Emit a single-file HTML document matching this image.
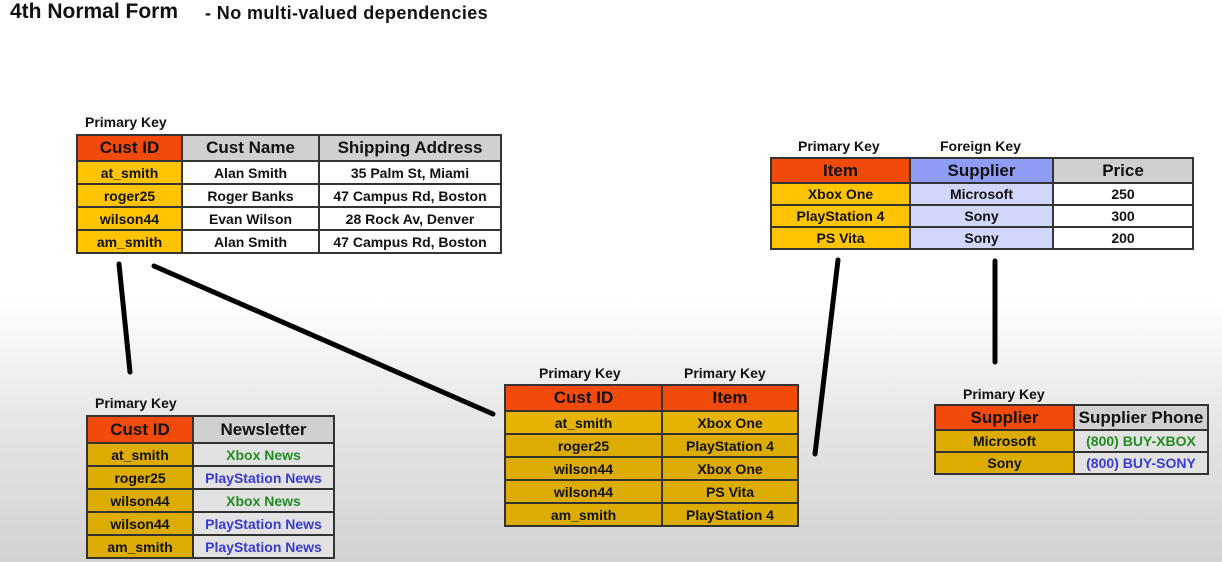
<!DOCTYPE html>
<html><head><meta charset="utf-8"><style>
html,body{margin:0;padding:0}
body{width:1222px;height:562px;position:relative;overflow:hidden;font-family:"Liberation Sans",sans-serif;background:linear-gradient(to bottom,#fff 0px,#fff 300px,#e6e6e6 420px,#d2d2d2 562px)}
.t{position:absolute;font-weight:bold;color:#111;white-space:nowrap}
table{position:absolute;border-collapse:collapse;table-layout:fixed;font-weight:bold;color:#111}
td{border:2px solid #333;text-align:center;padding:0;white-space:nowrap;overflow:hidden;font-size:14px}
tr.h td{font-size:17px}
.r{background:#f24a0a}.g{background:#d0d0d0}.y{background:#ffc400}.w{background:#fff}
.b{background:#8f9cf5}.lb{background:#d2d6fb}.dy{background:#dcac00}.lg{background:#e2e2e2}
.gr{color:#228b22}.bl{color:#3a3ad0}
</style></head><body>
<div class="t" style="left:10px;top:0px;font-size:21px">4th Normal Form</div>
<div class="t" style="left:205px;top:3px;font-size:18px;letter-spacing:0.4px">- No multi-valued dependencies</div>

<svg width="1222" height="562" style="position:absolute;left:0;top:0">
<g stroke="#000" stroke-width="5" stroke-linecap="round">
<line x1="119" y1="264" x2="130" y2="372"/>
<line x1="154" y1="266" x2="493" y2="414"/>
<line x1="838" y1="260" x2="815" y2="454"/>
<line x1="995" y1="261" x2="995" y2="362"/>
</g></svg>

<div class="t" style="left:85px;top:114px;font-size:14px">Primary Key</div>
<table style="left:76px;top:134px;width:424px">
<colgroup><col style="width:105px"><col style="width:137px"><col style="width:182px"></colgroup>
<tr class="h" style="height:26px"><td class="r">Cust ID</td><td class="g">Cust Name</td><td class="g">Shipping Address</td></tr>
<tr style="height:23px"><td class="y">at_smith</td><td class="w">Alan Smith</td><td class="w">35 Palm St, Miami</td></tr>
<tr style="height:23px"><td class="y">roger25</td><td class="w">Roger Banks</td><td class="w">47 Campus Rd, Boston</td></tr>
<tr style="height:23px"><td class="y">wilson44</td><td class="w">Evan Wilson</td><td class="w">28 Rock Av, Denver</td></tr>
<tr style="height:23px"><td class="y">am_smith</td><td class="w">Alan Smith</td><td class="w">47 Campus Rd, Boston</td></tr>
</table>

<div class="t" style="left:95px;top:395px;font-size:14px">Primary Key</div>
<table style="left:86px;top:415px;width:247px">
<colgroup><col style="width:106px"><col style="width:141px"></colgroup>
<tr class="h" style="height:27px"><td class="r">Cust ID</td><td class="g">Newsletter</td></tr>
<tr style="height:23px"><td class="dy">at_smith</td><td class="lg gr">Xbox News</td></tr>
<tr style="height:23px"><td class="dy">roger25</td><td class="lg bl">PlayStation News</td></tr>
<tr style="height:23px"><td class="dy">wilson44</td><td class="lg gr">Xbox News</td></tr>
<tr style="height:23px"><td class="dy">wilson44</td><td class="lg bl">PlayStation News</td></tr>
<tr style="height:23px"><td class="dy">am_smith</td><td class="lg bl">PlayStation News</td></tr>
</table>

<div class="t" style="left:539px;top:365px;font-size:14px">Primary Key</div>
<div class="t" style="left:684px;top:365px;font-size:14px">Primary Key</div>
<table style="left:504px;top:384px;width:293px">
<colgroup><col style="width:157px"><col style="width:136px"></colgroup>
<tr class="h" style="height:26px"><td class="r">Cust ID</td><td class="r">Item</td></tr>
<tr style="height:23px"><td class="dy" style="background:#e6b400">at_smith</td><td class="dy" style="background:#e6b400">Xbox One</td></tr>
<tr style="height:23px"><td class="dy">roger25</td><td class="dy">PlayStation 4</td></tr>
<tr style="height:23px"><td class="dy">wilson44</td><td class="dy">Xbox One</td></tr>
<tr style="height:23px"><td class="dy">wilson44</td><td class="dy">PS Vita</td></tr>
<tr style="height:23px"><td class="dy">am_smith</td><td class="dy">PlayStation 4</td></tr>
</table>

<div class="t" style="left:798px;top:138px;font-size:14px">Primary Key</div>
<div class="t" style="left:940px;top:138px;font-size:14px">Foreign Key</div>
<table style="left:770px;top:157px;width:422px">
<colgroup><col style="width:139px"><col style="width:143px"><col style="width:140px"></colgroup>
<tr class="h" style="height:25px"><td class="r">Item</td><td class="b">Supplier</td><td class="g">Price</td></tr>
<tr style="height:22px"><td class="y">Xbox One</td><td class="lb">Microsoft</td><td class="w">250</td></tr>
<tr style="height:22px"><td class="y">PlayStation 4</td><td class="lb">Sony</td><td class="w">300</td></tr>
<tr style="height:22px"><td class="y">PS Vita</td><td class="lb">Sony</td><td class="w">200</td></tr>
</table>

<div class="t" style="left:963px;top:386px;font-size:14px">Primary Key</div>
<table style="left:934px;top:404px;width:273px">
<colgroup><col style="width:139px"><col style="width:134px"></colgroup>
<tr class="h" style="height:25px"><td class="r">Supplier</td><td class="g">Supplier Phone</td></tr>
<tr style="height:22px"><td class="dy">Microsoft</td><td class="lg gr">(800) BUY-XBOX</td></tr>
<tr style="height:22px"><td class="dy">Sony</td><td class="lg bl">(800) BUY-SONY</td></tr>
</table>
</body></html>
